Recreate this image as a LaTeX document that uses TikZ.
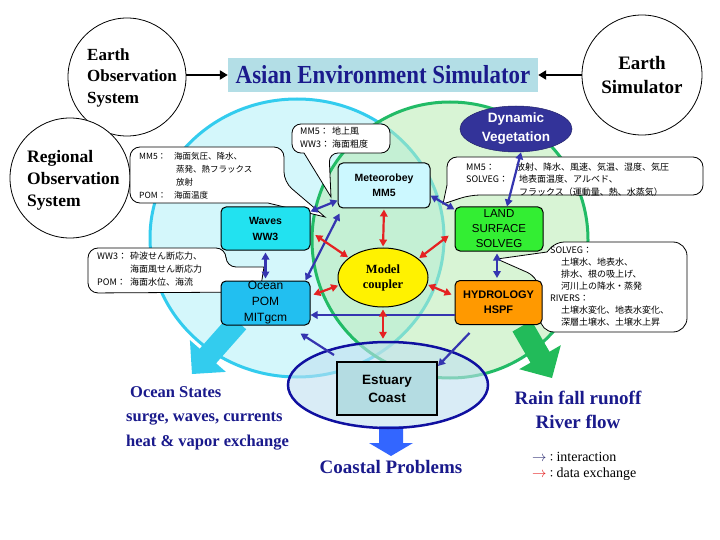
\documentclass[tikz,border=0pt]{standalone}
\usepackage{fontspec}
\setmainfont{Liberation Serif}
\setsansfont{Liberation Sans}
\newfontfamily\jp{Noto Sans CJK JP}
\newfontfamily\condserif[FakeStretch=0.88]{Liberation Serif}
\usetikzlibrary{shapes.geometric,arrows.meta}
\definecolor{navy}{HTML}{1A1A8C}
\definecolor{cyanedge}{HTML}{33CCEE}
\definecolor{cyanfill}{HTML}{D4F7FB}
\definecolor{greenedge}{HTML}{22BB66}
\definecolor{greenfill}{HTML}{B8EBB4}
\definecolor{greenarrow}{HTML}{22BB5A}
\definecolor{blueline}{HTML}{3535B0}
\definecolor{redline}{HTML}{E52222}
\definecolor{titlefill}{HTML}{B3DEE6}
\definecolor{dvfill}{HTML}{333399}
\definecolor{metfill}{HTML}{CCF8FF}
\definecolor{wavefill}{HTML}{22E2F0}
\definecolor{oceanfill}{HTML}{22BFF0}
\definecolor{landfill}{HTML}{33EE33}
\definecolor{hydfill}{HTML}{FF9900}
\definecolor{estfill}{HTML}{C0E0F0}
\definecolor{estborder}{HTML}{1010A0}
\definecolor{estbox}{HTML}{B4DCE2}
\definecolor{coastblue}{HTML}{3366FF}
\definecolor{legblue}{HTML}{333377}
\begin{document}
\begin{tikzpicture}[x=1pt,y=-1pt,
  >={Triangle[length=7pt,width=7.5pt]},
  bline/.style={draw=blueline,line width=2.2pt,<->},
  bone/.style={draw=blueline,line width=2.2pt,->},
  rline/.style={draw=redline,line width=2.2pt,<->,shorten <=1pt,shorten >=1pt},
  mbox/.style={draw,rounded corners=5pt,line width=1pt,inner sep=0pt,align=center},
  bubble/.style={draw,fill=white,line width=0.8pt},
  jptext/.style={inner sep=0pt,align=left,anchor=north west},
  bigcirc/.style={circle,draw,fill=white,line width=0.8pt,inner sep=0pt},
  bigtext/.style={text=navy,inner sep=0pt},
]
\useasboundingbox (0,0) rectangle (720,540);
\fill[white] (0,0) rectangle (720,540);

% big circles
\draw[cyanedge, fill=cyanfill, line width=3pt] (297,238) ellipse [x radius=147, y radius=139];
\draw[greenedge, line width=3pt, fill=greenfill, fill opacity=0.55] (450,240) circle [radius=138];

% thick output arrows
\fill[cyanedge] (229.8,314.7) -- (199.7,348.7) -- (189.9,340.1) -- (192,374) -- (225.9,371.9) -- (216.1,363.3) -- (246.2,329.3) -- cycle;
\fill[greenarrow] (531.5,320.5) -- (549.5,351.7) -- (560.8,345.2) -- (552,378) -- (519.2,369.2) -- (530.5,362.7) -- (512.5,331.5) -- cycle;
\fill[coastblue] (379,426) -- (403,426) -- (403,443) -- (413,443) -- (391,456) -- (369,443) -- (379,443) -- cycle;

% estuary ellipse
\node[ellipse, draw=estborder, line width=2.5pt, fill=estfill, fill opacity=0.6, minimum width=200, minimum height=86, inner sep=0pt] (estell) at (388,385) {};

% observation / simulator circles
\node[bigcirc, minimum size=118] (eos) at (127,77) {};
\node[bigcirc, minimum size=120] (ros) at (70,178) {};
\node[bigcirc, minimum size=120] (es) at (642,75) {};
\node[anchor=west, align=left, inner sep=0pt, font=\bfseries\fontsize{17}{21.5}\selectfont] (eost) at (87,77.5) {Earth\\Observation\\System};
\node[anchor=west, align=left, inner sep=0pt, font=\bfseries\fontsize{17.5}{22}\selectfont] (rost) at (27,180) {Regional\\Observation\\System};
\node[align=center, inner sep=0pt, font=\bfseries\fontsize{19}{24}\selectfont] (est2) at (642,75) {Earth\\Simulator};

% title
\node[fill=titlefill, minimum width=310, minimum height=34, inner sep=0pt, text=navy, font=\condserif\bfseries\fontsize{26}{26}\selectfont] (title) at (383,75) {Asian Environment Simulator};
\draw[line width=2.5pt, -{Triangle[length=8pt,width=9pt]}] (eos.east |- title.west) -- (title.west);
\draw[line width=2.5pt, -{Triangle[length=8pt,width=9pt]}] (es.west |- title.east) -- (title.east);

% callout bubbles
\draw[bubble] (200,147) [rounded corners=10pt] -- (284,147) -- (284,182) [sharp corners] -- (325,217) -- (268,203) [rounded corners=10pt] -- (130,203) -- (130,147) -- cycle;
\node[jptext, font=\jp\fontsize{8.5}{13}\selectfont] (bta) at (139,152.5) {\makebox[35pt][l]{MM5：}海面気圧、降水、\\\hspace*{37pt}蒸発、熱フラックス\\\hspace*{37pt}放射\\\makebox[35pt][l]{POM：}海面温度};

\draw[bubble] (340,124) [rounded corners=9pt] -- (390,124) -- (390,153) -- (329,153) [sharp corners] -- (331,197) -- (304,153) [rounded corners=9pt] -- (292,153) -- (292,124) -- cycle;
\node[jptext, font=\jp\fontsize{9}{13}\selectfont] (btb) at (300,126.5) {\makebox[32pt][l]{MM5：}地上風\\\makebox[32pt][l]{WW3：}海面粗度};

\draw[bubble] (560,157) [rounded corners=10pt] -- (703,157) -- (703,195) -- (470,195) [sharp corners] -- (443,204) -- (447,185) [rounded corners=10pt] -- (447,157) -- cycle;
\node[jptext, font=\jp\fontsize{9}{12.5}\selectfont] (btc) at (466,162.5) {\makebox[50pt][l]{MM5：}放射、降水、風速、気温、湿度、気圧\\\makebox[53pt][l]{SOLVEG：}地表面温度、アルベド、\\\hspace*{53pt}フラックス（運動量、熱、水蒸気）};

\draw[bubble] (150,248) [rounded corners=10pt] -- (226,248) -- (226,267) [sharp corners] -- (264,267) -- (260,292) [rounded corners=10pt] -- (88,293) -- (88,248) -- cycle;
\node[jptext, font=\jp\fontsize{9}{13}\selectfont] (btd) at (97,251.5) {\makebox[33pt][l]{WW3：}砕波せん断応力、\\\hspace*{33pt}海面風せん断応力\\\makebox[33pt][l]{POM：}海面水位、海流};

\draw[bubble] (620,242) [rounded corners=14pt] -- (687,242) -- (687,332) -- (540,332) -- (540,278) [sharp corners] -- (497,259) -- (547,252) [rounded corners=8pt] -- (556,242) -- cycle;
\node[jptext, font=\jp\fontsize{9}{12}\selectfont] (bte) at (550,246.5) {SOLVEG：\\\hspace*{11pt}土壌水、地表水、\\\hspace*{11pt}排水、根の吸上げ、\\\hspace*{11pt}河川上の降水・蒸発\\RIVERS：\\\hspace*{11pt}土壌水変化、地表水変化、\\\hspace*{11pt}深層土壌水、土壌水上昇};

% dynamic vegetation
\node[ellipse, fill=dvfill, draw=dvfill!70!black, line width=0.5pt, minimum width=112, minimum height=46, inner sep=0pt, text=white, align=center, font=\sffamily\bfseries\fontsize{13.5}{19}\selectfont] (dv) at (516,129) {Dynamic\\Vegetation};

% model boxes
\node[mbox, fill=metfill, minimum width=92, minimum height=45, font=\sffamily\bfseries\fontsize{10.5}{15}\selectfont] (met) at (384,185.5) {Meteorobey\\MM5};
\node[mbox, fill=wavefill, minimum width=89, minimum height=43, font=\sffamily\bfseries\fontsize{10.5}{16}\selectfont] (waves) at (265.5,228.5) {Waves\\WW3};
\node[mbox, fill=oceanfill, minimum width=89, minimum height=44, font=\sffamily\fontsize{12}{16}\selectfont] (ocean) at (265.5,303) {Ocean\\POM\\MITgcm};
\node[mbox, fill=landfill, minimum width=88, minimum height=44, font=\sffamily\fontsize{11.5}{15}\selectfont] (land) at (499,229) {LAND\\SURFACE\\SOLVEG};
\node[mbox, fill=hydfill, minimum width=87, minimum height=44, font=\sffamily\bfseries\fontsize{11}{15}\selectfont] (hyd) at (498.5,302.5) {HYDROLOGY\\HSPF};
\node[ellipse, draw, fill=yellow, line width=1pt, minimum width=90, minimum height=59, inner sep=0pt, align=center, font=\bfseries\fontsize{12.5}{15}\selectfont] (coupler) at (383,277.5) {Model\\coupler};
\node[draw, line width=2pt, fill=estbox, minimum width=100, minimum height=53, inner sep=0pt, align=center, font=\sffamily\bfseries\fontsize{13.5}{18}\selectfont] (est) at (387,388.5) {Estuary\\Coast};

% interaction connectors (blue)
\draw[bline] ([yshift=-5pt]waves.north east) -- ([yshift=8pt]met.south west);
\draw[bline] ([xshift=-5pt]ocean.north east) -- ([xshift=2pt,yshift=-5pt]met.south west);
\draw[bline, shorten <=2pt, shorten >=2pt] (waves.south) -- (ocean.north);
\draw[bline] ([yshift=13pt]met.south east) -- ([yshift=-3pt]land.north west);
\draw[bline] ([xshift=5pt]dv.south) -- ([xshift=8pt]land.north);
\draw[bline, shorten <=2pt, shorten >=2pt] ([xshift=-2pt]land.south) -- ([xshift=-1.5pt]hyd.north);
\draw[bone] ([yshift=-12.5pt]hyd.west) -- ([yshift=-12pt]ocean.east);
\draw[bone] ([xshift=-2pt,yshift=6pt]est.north west) -- ([xshift=-10pt,yshift=-8pt]ocean.south east);
\draw[bone] ([xshift=15pt,yshift=-8pt]hyd.south west) -- ([yshift=-5pt]est.north east);

% data exchange connectors (red)
\draw[rline] (met.south) -- (coupler.north);
\draw[rline] ([xshift=4pt,yshift=-6pt]waves.east) -- (coupler.150);
\draw[rline] ([xshift=-5pt,yshift=-6pt]land.west) -- (coupler.28);
\draw[rline] ([xshift=2pt,yshift=8pt]ocean.east) -- (coupler.190);
\draw[rline] ([xshift=-2pt,yshift=7.5pt]hyd.west) -- (coupler.351);
\draw[rline, shorten <=2pt, shorten >=2pt] (coupler.south) -- (coupler.south |- estell.north);

% output labels
\node[bigtext, anchor=west, align=left, font=\bfseries\fontsize{16.5}{24.5}\selectfont] (ocst) at (126,418) {\hspace*{4pt}Ocean States\\surge, waves, currents\\heat \& vapor exchange};
\node[bigtext, align=center, font=\bfseries\fontsize{19}{24}\selectfont] (rain) at (578,410) {Rain fall runoff\\River flow};
\node[bigtext, font=\bfseries\fontsize{19}{19}\selectfont] (coastal) at (391,467) {Coastal Problems};

% legend
\node[anchor=west, inner sep=0pt, font=\fontsize{14}{14}\selectfont] (leg1) at (532,457) {\textcolor{legblue}{$\rightarrow$}{\jp\fontsize{10}{10}\selectfont ：}interaction};
\node[anchor=west, inner sep=0pt, font=\fontsize{14}{14}\selectfont] (leg2) at (532,474) {\textcolor{redline}{$\rightarrow$}{\jp\fontsize{10}{10}\selectfont ：}data exchange};
\end{tikzpicture}
\end{document}
